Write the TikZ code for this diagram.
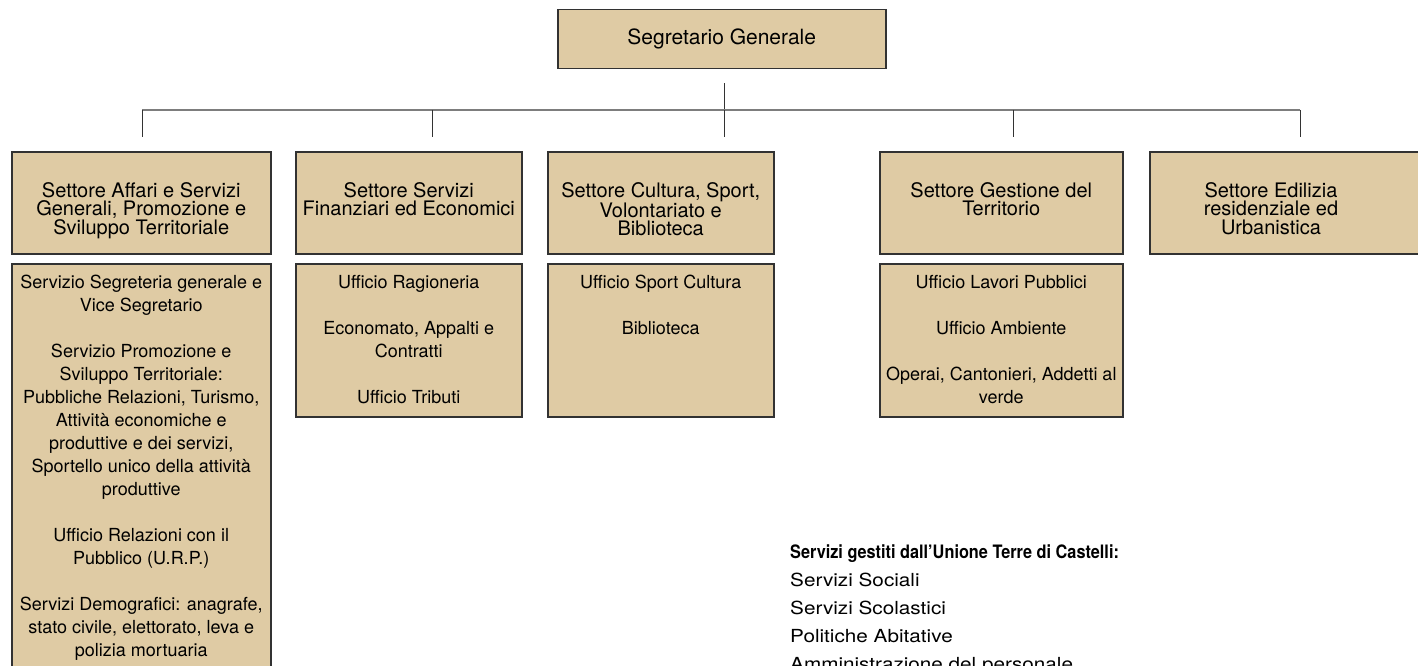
\documentclass[tikz,border=0pt]{standalone}
\usepackage{fontspec}
\setmainfont{TeX Gyre Heros}
\newfontfamily\unionwide[FakeStretch=1.15]{TeX Gyre Heros}
\newfontfamily\uniontitle[FakeStretch=0.88]{TeX Gyre Heros}
\usetikzlibrary{positioning}

\definecolor{boxfill}{RGB}{223,203,164}
\definecolor{boxline}{RGB}{50,50,50}
\definecolor{busline}{RGB}{125,125,125}

\tikzset{
  box/.style={draw=boxline, fill=boxfill, line width=1.5pt, anchor=north west, inner sep=0pt},
  headtxt/.style={font=\fontsize{21}{24}\selectfont, inner sep=0pt},
  settxt/.style={font=\fontsize{20}{18.5}\selectfont, align=center, anchor=north, inner sep=0pt},
  subtxt/.style={font=\fontsize{18}{23}\selectfont, align=center, anchor=north, inner sep=0pt},
  stem/.style={draw=black!80, line width=1pt},
  bus/.style={draw=busline, line width=2pt},
}

\begin{document}
\begin{tikzpicture}[x=1pt,y=1pt]
\useasboundingbox (0,0) rectangle (1418,-666);

% top
\node[box, minimum width=328pt, minimum height=59pt] (seg) at (557,-9) {};
\node[headtxt] (seg-t) at (seg.center) {Segretario Generale};

% connectors
\coordinate (hub) at (724,-110);
\coordinate (d1) at (142,-110);
\coordinate (d2) at (432,-110);
\coordinate (d3) at (724,-110);
\coordinate (d4) at (1013,-110);
\coordinate (d5) at (1300,-110);
\draw[stem] ([yshift=-14pt]seg.south -| hub) -- (hub);
\draw[bus] (d1) -- (d5);
\foreach \d in {d1,d2,d3,d4,d5}
  \draw[stem] (\d) -- ++(0,-27);

% settori
\node[box, minimum width=259pt, minimum height=102pt] (aff) at (11,-151) {};
\node[box, minimum width=226pt, minimum height=102pt] (fin) at (295,-151) {};
\node[box, minimum width=226pt, minimum height=102pt] (cul) at (547,-151) {};
\node[box, minimum width=243pt, minimum height=102pt] (ter) at (879,-151) {};
\node[box, minimum width=290pt, minimum height=102pt] (edi) at (1149,-151) {};

\node[settxt] (aff-t) at ([yshift=-31pt]aff.north) {Settore Affari e Servizi\\Generali, Promozione e\\Sviluppo Territoriale};
\node[settxt] (fin-t) at ([yshift=-31pt]fin.north) {Settore Servizi\\Finanziari ed Economici};
\node[settxt] (cul-t) at ([yshift=-31pt]cul.north) {Settore Cultura, Sport,\\Volontariato e\\Biblioteca};
\node[settxt] (ter-t) at ([yshift=-31pt]ter.north) {Settore Gestione del\\Territorio};
\node[settxt] (edi-t) at ([yshift=-31pt]1271,-151) {Settore Edilizia\\residenziale ed\\Urbanistica};

% uffici
\node[box, minimum width=259pt, minimum height=450pt] (aff-u) at (11,-263) {};
\node[box, minimum width=226pt, minimum height=153pt] (fin-u) at (295,-263) {};
\node[box, minimum width=226pt, minimum height=153pt] (cul-u) at (547,-263) {};
\node[box, minimum width=243pt, minimum height=153pt] (ter-u) at (879,-263) {};

\node[subtxt] (aff-ut) at ([yshift=-12pt]aff-u.north) {Servizio Segreteria generale e\\Vice Segretario\\[23pt]
  Servizio Promozione e\\Sviluppo Territoriale:\\Pubbliche Relazioni, Turismo,\\Attività economiche e\\produttive e dei servizi,\\Sportello unico della attività\\produttive\\[23pt]
  Ufficio Relazioni con il\\Pubblico (U.R.P.)\\[23pt]
  Servizi Demografici: anagrafe,\\stato civile, elettorato, leva e\\polizia mortuaria};
\node[subtxt] (fin-ut) at ([yshift=-12pt]fin-u.north) {Ufficio Ragioneria\\[23pt]Economato, Appalti e\\Contratti\\[23pt]Ufficio Tributi};
\node[subtxt] (cul-ut) at ([yshift=-12pt]cul-u.north) {Ufficio Sport Cultura\\[23pt]Biblioteca};
\node[subtxt] (ter-ut) at ([yshift=-12pt]ter-u.north) {Ufficio Lavori Pubblici\\[23pt]Ufficio Ambiente\\[23pt]Operai, Cantonieri, Addetti al\\verde};

% unione
\node[anchor=north west, inner sep=0pt, align=left, font=\unionwide\fontsize{18}{28}\selectfont] (uni) at (790,-545)
  {{\uniontitle\fontsize{18.5}{28}\selectfont\bfseries Servizi gestiti dall’Unione Terre di Castelli:}\\Servizi Sociali\\Servizi Scolastici\\Politiche Abitative\\Amministrazione del personale};
\end{tikzpicture}
\end{document}
